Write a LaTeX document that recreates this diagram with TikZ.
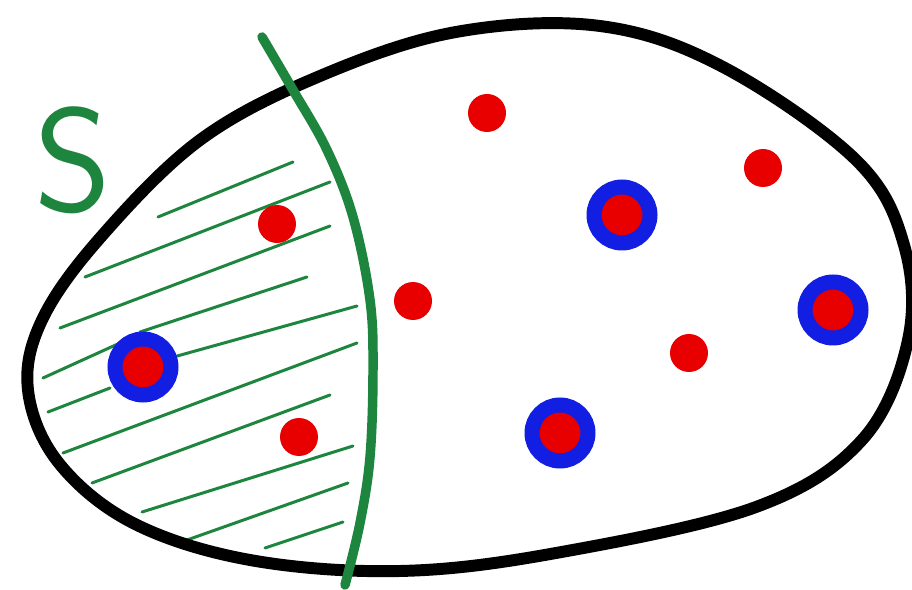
\documentclass[tikz,border=0pt]{standalone}
\usepackage{fontspec}
\definecolor{cutGreen}{RGB}{30,133,62}
\definecolor{dotRed}{RGB}{232,0,0}
\definecolor{ringBlue}{RGB}{18,30,225}

\begin{document}
\begin{tikzpicture}[x=0.02cm,y=-0.02cm,
    outline/.style={line width=6.8pt,line join=round},
    cut/.style={cutGreen,line width=5.4pt,line cap=round},
    hatch/.style={cutGreen,line width=1.7pt,line cap=round},
    dot/.style={circle,fill=dotRed,inner sep=0pt,minimum size=0.76cm},
    ringed/.style={circle,draw=ringBlue,line width=0.3cm,fill=dotRed,inner sep=0pt,minimum size=1.12cm}
  ]
    \useasboundingbox[fill=white] (0,0) rectangle (912,590);

    \foreach \a/\b in {{158,217}/{293,162},{85,277}/{330,182},{60,328}/{330,226},
                       {140,332}/{307,277},{43,378}/{120,343},{170,358}/{357,306},
                       {48,412}/{110,388},{63,453}/{357,343},{92,483}/{330,395},
                       {142,512}/{353,446},{187,540}/{348,483},{265,548}/{343,522}}
      \draw[hatch] (\a) -- (\b);

    \draw[outline] plot[smooth cycle,tension=0.6] coordinates {
      (456,32) (600,26) (723,67) (856,160) (904,245) (908,340) (862,440)
      (756,507) (556,553) (400,571) (250,560) (133,523) (58,462) (28,390)
      (42,320) (100,238) (200,140) (320,76)};

    \draw[cut] plot[smooth,tension=0.6] coordinates {
      (262,37) (293,90) (327,150) (353,217) (370,300) (373,370) (370,457) (360,523) (345,585)};

    \node[text=cutGreen,font=\sffamily\fontsize{84}{84}\selectfont,inner sep=0pt] (setS) at (73,160) {S};

    \foreach \p [count=\i] in {{487,113},{763,168},{277,224},{413,301},{689,353},{299,437}}
      \node[dot] (red\i) at (\p) {};

    \foreach \p [count=\i] in {{622,215},{833,310},{143,367},{560,433}}
      \node[ringed] (ring\i) at (\p) {};
\end{tikzpicture}
\end{document}
